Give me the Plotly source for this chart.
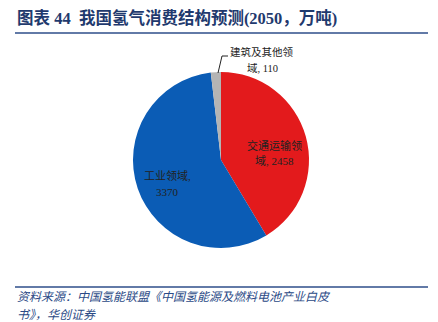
import plotly.graph_objects as go

categories = ["交通运输领域", "工业领域", "建筑及其他领域"]
values = [2458, 3370, 110]
colors = ["#E31A1C", "#0B5CB5", "#B4B4B4"]
label_lines = [["交通运输领", "域, 2458"], ["工业领域,", "3370"], ["建筑及其他领", "域, 110"]]
source_lines = ["资料来源：中国氢能联盟《中国氢能源及燃料电池产业白皮", "书》，华创证券"]

W, H = 438, 322
def px(x): return x / W
def py(y): return 1 - y / H

fig = go.Figure()
fig.add_trace(go.Pie(
    labels=categories, values=values, sort=False, direction="clockwise", rotation=0,
    marker=dict(colors=colors, line=dict(width=0)),
    textinfo="none", hoverinfo="label+value", showlegend=False,
    domain=dict(x=[px(133), px(309)], y=[py(248), py(72)]),
))

fam = "Liberation Serif, Noto Sans CJK SC"
label_pos = [(274, 145, 161, 11), (167, 176, 192, 11), (262, 52, 68, 10.5)]
annotations = []
for (lx, y1, y2, sz), lines in zip(label_pos, label_lines):
    for yy, t in zip((y1, y2), lines):
        annotations.append(dict(x=px(lx), y=py(yy), text=t, showarrow=False,
                                font=dict(family=fam, size=sz, color="#222222"),
                                xanchor="center", yanchor="middle"))

annotations += [
    dict(x=px(15), y=py(18), xanchor="left", yanchor="middle",
         text="<b>图表 44  我国氢气消费结构预测(2050，万吨)</b>", showarrow=False,
         font=dict(family=fam, size=16.5, color="#1F3A6E")),
    dict(x=px(16), y=py(295.5), xanchor="left", yanchor="middle", borderpad=0,
         text="<i>" + source_lines[0] + "</i>", showarrow=False,
         font=dict(family="Noto Sans CJK SC", size=12, color="#2B4A86")),
    dict(x=px(16), y=py(313), xanchor="left", yanchor="middle", borderpad=0,
         text="<i>" + source_lines[1] + "</i>", showarrow=False,
         font=dict(family="Noto Sans CJK SC", size=12, color="#2B4A86")),
]

shapes = [
    dict(type="line", xref="paper", yref="paper", x0=px(15), x1=px(428), y0=py(33), y1=py(33),
         line=dict(color="#2E4E8A", width=1.5)),
    dict(type="line", xref="paper", yref="paper", x0=px(15), x1=px(428), y0=py(287), y1=py(287),
         line=dict(color="#2E4E8A", width=1.5)),
    dict(type="path", xref="paper", yref="paper",
         path=f"M {px(218)} {py(73)} L {px(222)} {py(56)} L {px(228)} {py(56)}",
         line=dict(color="#222222", width=1)),
]

fig.update_layout(width=W, height=H, margin=dict(l=0, r=0, t=0, b=0),
                  paper_bgcolor="white", plot_bgcolor="white",
                  annotations=annotations, shapes=shapes)
fig.write_html("out.html")
